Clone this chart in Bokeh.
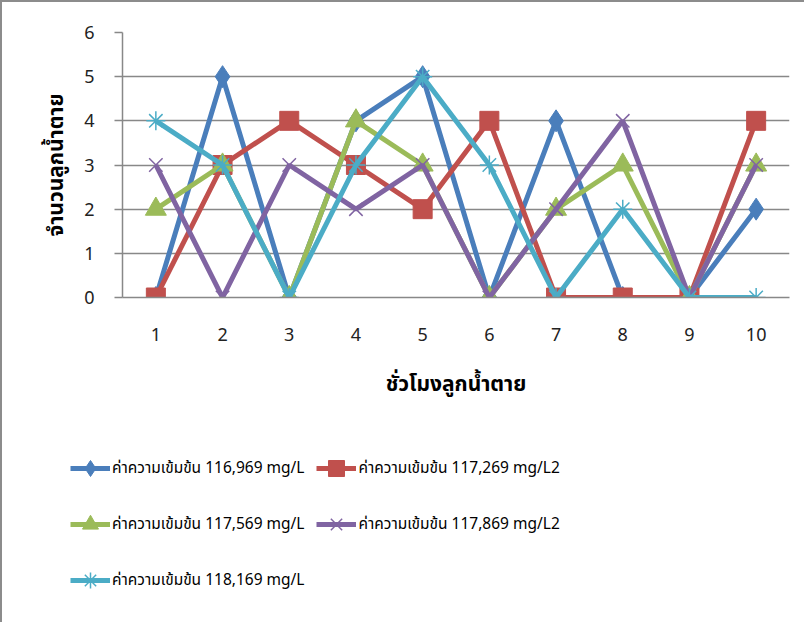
from bokeh.plotting import figure
from bokeh.layouts import column
from bokeh.models import Legend, LegendItem, FixedTicker, Range1d
from bokeh.embed import file_html
from bokeh.resources import INLINE

hours = [1, 2, 3, 4, 5, 6, 7, 8, 9, 10]
s1 = [0, 5, 0, 4, 5, 0, 4, 0, 0, 2]
s2 = [0, 3, 4, 3, 2, 4, 0, 0, 0, 4]
s3 = [2, 3, 0, 4, 3, 0, 2, 3, 0, 3]
s4 = [3, 0, 3, 2, 3, 0, 2, 4, 0, 3]
s5 = [4, 3, 0, 3, 5, 3, 0, 2, 0, 0]
names = ["ค่าความเข้มข้น 116,969 mg/L", "ค่าความเข้มข้น 117,269 mg/L2",
         "ค่าความเข้มข้น 117,569 mg/L", "ค่าความเข้มข้น 117,869 mg/L2",
         "ค่าความเข้มข้น 118,169 mg/L"]
y_title = "จำนวนลูกน้ำตาย"
x_title = "ชั่วโมงลูกน้ำตาย"

FONT = "Tahoma, 'Noto Sans Thai', 'Noto Sans', 'DejaVu Sans', sans-serif"
colors = ["#4A7EBB", "#C0504D", "#9BBB59", "#8064A2", "#4BACC6"]
markers = ["diamond", "square", "triangle", "x", "asterisk"]
msizes = [22, 19, 21, 19, 19]
mwidths = [1, 1, 1, 1.5, 1.5]
series = [s1, s2, s3, s4, s5]

MAIN_H = 420
p = figure(width=804, height=MAIN_H, output_backend="svg", toolbar_location=None,
           x_range=Range1d(0.5, 10.5), y_range=Range1d(0, 6),
           min_border_left=120, min_border_right=17, min_border_top=30,
           min_border_bottom=125)
p.frame_align = False
p.styles = {"border-left": "2px solid #8c8c8c", "border-top": "2px solid #8c8c8c",
            "box-sizing": "border-box"}
p.outline_line_color = None
p.xgrid.grid_line_color = None
p.ygrid.grid_line_color = "#888888"
p.ygrid.grid_line_width = 1.5

p.yaxis.ticker = FixedTicker(ticks=[0, 1, 2, 3, 4, 5, 6])
p.xaxis.ticker = FixedTicker(ticks=hours)
for ax in (p.xaxis[0], p.yaxis[0]):
    ax.axis_line_color = "#888888"
    ax.axis_line_width = 1.5
    ax.major_label_text_font = FONT
    ax.major_label_text_font_size = "18px"
    ax.major_label_text_color = "#222222"
    ax.axis_label_text_font = FONT
    ax.axis_label_text_font_size = "21px"
    ax.axis_label_text_font_style = "bold"
    ax.axis_label_text_color = "#000000"
    ax.minor_tick_line_color = None
p.yaxis.major_tick_line_color = "#888888"
p.yaxis.major_tick_line_width = 1.5
p.yaxis.major_tick_out = 8
p.yaxis.major_tick_in = 0
p.yaxis.major_label_standoff = 20
p.xaxis.major_tick_line_color = None
p.xaxis.major_label_standoff = 24
p.yaxis.axis_label = y_title
p.xaxis.axis_label = x_title
p.yaxis.axis_label_standoff = 9
p.xaxis.axis_label_standoff = 25

for vals, c, m, ms, mw in zip(series, colors, markers, msizes, mwidths):
    p.line(hours, vals, line_color=c, line_width=5)
    p.scatter(hours, vals, marker=m, size=ms, fill_color=c, line_color=c,
              line_width=mw)

# Legend lives in its own figure below; its glyphs sit outside its x range.
leg = figure(width=804, height=622 - MAIN_H, output_backend="svg", toolbar_location=None,
             x_range=Range1d(100, 101), y_range=Range1d(100, 101),
             min_border=0, min_border_left=0, min_border_right=0,
             min_border_top=0, min_border_bottom=0)
leg.frame_align = False
leg.styles = {"border-left": "2px solid #8c8c8c", "box-sizing": "border-box"}
leg.axis.visible = False
leg.grid.visible = False
leg.outline_line_color = None
items = []
for vals, c, m, ms, mw, nm in zip(series, colors, markers, msizes, mwidths, names):
    ln = leg.line(hours, vals, line_color=c, line_width=5)
    sc = leg.scatter(hours, vals, marker=m, size=ms, fill_color=c, line_color=c,
                     line_width=mw)
    items.append(LegendItem(label=nm, renderers=[ln, sc]))

legend = Legend(items=items, location=(68, 20), orientation="horizontal", ncols=2,
                label_text_font=FONT, label_text_font_size="15.5px",
                label_text_color="#000000", glyph_width=40, glyph_height=44,
                label_standoff=2, spacing=12, padding=0, margin=0,
                label_height=44, border_line_color=None, background_fill_alpha=0)
leg.add_layout(legend, "center")

layout = column(p, leg, spacing=0)
open("out.html", "w").write(file_html(layout, INLINE))
